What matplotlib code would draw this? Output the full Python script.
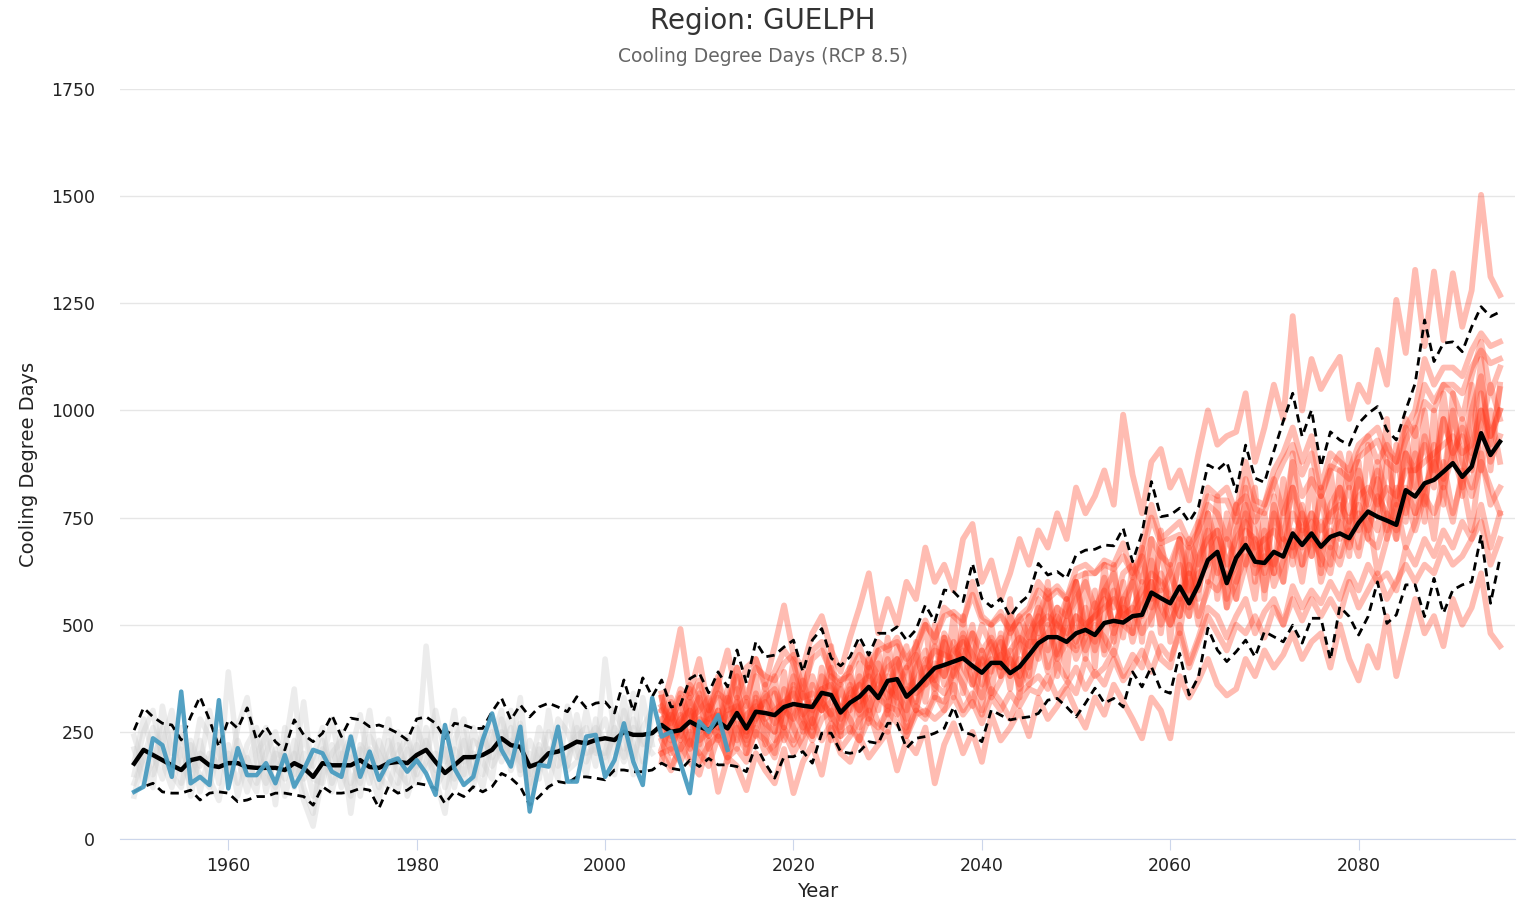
import numpy as np
import matplotlib
matplotlib.use("Agg")
import matplotlib.pyplot as plt

# years
hist_years = np.arange(1950, 2006)
proj_years = np.arange(2006, 2096)
all_years = np.arange(1950, 2096)
obs_years = np.arange(1950, 2014)

# ensemble median / 10th / 90th percentile (1950-2095)
median = [
    176, 208, 196, 184, 172, 161, 184, 189, 172, 168,
    177, 177, 168, 166, 166, 166, 161, 177, 166, 145,
    177, 172, 172, 172, 184, 168, 166, 177, 180, 177,
    196, 208, 180, 154, 172, 191, 191, 196, 208, 235,
    219, 215, 169, 177, 200, 204, 215, 227, 223, 231,
    235, 231, 250, 243, 243, 247,
    266, 250, 254, 274, 262, 254, 274, 258, 294, 258,
    297, 294, 289, 308, 315, 311, 308, 341, 336, 295,
    318, 332, 355, 329, 369, 373, 332, 352, 376, 399,
    406, 414, 422, 404, 388, 411, 411, 387, 402, 429,
    457, 471, 471, 460, 480, 488, 476, 504, 509, 505,
    520, 523, 575, 562, 550, 589, 550, 593, 651, 670,
    597, 656, 686, 647, 644, 670, 659, 713, 686, 713,
    682, 705, 713, 702, 738, 764, 752, 743, 733, 814,
    799, 830, 838, 857, 877, 845, 869, 947, 896, 927,
]
p90 = [
    254, 306, 285, 270, 266, 231, 285, 332, 278, 215,
    278, 258, 306, 231, 262, 227, 208, 278, 243, 227,
    247, 289, 239, 282, 278, 262, 266, 258, 247, 231,
    280, 285, 270, 235, 270, 266, 258, 258, 297, 329,
    278, 313, 285, 308, 317, 308, 297, 332, 306, 317,
    320, 294, 371, 297, 376, 332,
    371, 308, 313, 374, 387, 341, 390, 355, 441, 364,
    460, 425, 429, 448, 464, 390, 464, 491, 422, 404,
    425, 472, 429, 480, 480, 495, 464, 488, 546, 507,
    581, 577, 554, 643, 561, 542, 561, 519, 550, 569,
    643, 616, 624, 608, 663, 674, 676, 686, 684, 725,
    647, 713, 834, 752, 756, 772, 740, 775, 873, 861,
    880, 810, 919, 842, 832, 905, 975, 1040, 939, 1001,
    869, 950, 931, 919, 970, 993, 1009, 954, 931, 1001,
    1063, 1211, 1114, 1157, 1160, 1137, 1195, 1242, 1219, 1230,
]
p10 = [
    110, 122, 130, 110, 107, 107, 114, 91, 107, 110,
    107, 87, 91, 99, 99, 107, 107, 103, 99, 79,
    122, 107, 107, 110, 118, 114, 72, 122, 107, 114,
    130, 126, 118, 83, 110, 99, 122, 110, 122, 153,
    142, 122, 79, 99, 122, 134, 130, 145, 145, 142,
    138, 161, 161, 157, 157, 161,
    177, 165, 161, 184, 169, 188, 173, 173, 169, 157,
    219, 177, 142, 192, 192, 204, 177, 247, 247, 204,
    200, 204, 227, 223, 270, 270, 212, 235, 239, 247,
    258, 308, 250, 243, 227, 301, 289, 278, 282, 285,
    293, 324, 328, 308, 285, 317, 352, 317, 328, 308,
    390, 355, 402, 348, 340, 433, 336, 379, 492, 441,
    414, 437, 464, 425, 484, 472, 460, 499, 457, 515,
    515, 418, 542, 519, 476, 519, 600, 503, 523, 593,
    593, 519, 608, 527, 581, 593, 600, 709, 550, 655,
]

# observed (1950-2013)
observed = [
    110, 122, 235, 219, 145, 344, 130, 145, 126, 324,
    118, 212, 149, 149, 177, 130, 196, 122, 161, 208,
    200, 157, 145, 239, 145, 204, 138, 180, 188, 157,
    184, 153, 103, 266, 165, 126, 145, 231, 293, 208,
    169, 262, 64, 173, 169, 262, 134, 134, 239, 243,
    145, 184, 270, 180, 126, 329, 239, 250, 177, 107,
    274, 250, 289, 208,
]

# historical model runs (1950-2005)
hist_runs = [
    [150, 250, 300, 180, 120, 210, 160, 280, 240, 130, 390, 200, 150, 110, 260, 180, 140, 230, 120, 60,
     210, 160, 250, 130, 180, 300, 150, 120, 200, 240, 170, 450, 230, 120, 190, 150, 260, 180, 140, 280,
     200, 330, 120, 160, 250, 220, 170, 290, 180, 230, 280, 200, 330, 190, 260, 300],
    [210, 130, 180, 260, 150, 120, 230, 170, 300, 200, 140, 260, 330, 180, 130, 210, 100, 180, 320, 140,
     130, 220, 120, 200, 290, 160, 90, 230, 160, 130, 260, 200, 140, 60, 230, 280, 170, 120, 230, 300,
     160, 230, 90, 210, 170, 280, 250, 190, 300, 200, 200, 300, 250, 150, 330, 220],
    [100, 200, 150, 220, 300, 180, 130, 230, 140, 90, 200, 130, 220, 260, 160, 120, 210, 350, 140, 190,
     260, 130, 190, 240, 100, 210, 170, 280, 130, 210, 130, 180, 300, 200, 120, 230, 140, 260, 170, 210,
     260, 150, 200, 140, 300, 170, 200, 240, 260, 170, 420, 240, 190, 280, 220, 250],
    [240, 170, 120, 310, 200, 260, 100, 200, 180, 250, 170, 190, 110, 200, 240, 80, 260, 120, 200, 100,
     180, 280, 160, 100, 210, 130, 230, 170, 220, 160, 220, 160, 200, 180, 300, 130, 230, 210, 280, 180,
     230, 180, 150, 260, 200, 140, 310, 210, 150, 280, 170, 260, 210, 340, 180, 290],
    [180, 280, 200, 140, 250, 130, 220, 110, 200, 170, 220, 100, 190, 130, 200, 250, 160, 200, 90, 30,
     150, 200, 230, 60, 220, 190, 120, 200, 250, 100, 170, 230, 160, 210, 140, 250, 120, 240, 190, 250,
     180, 270, 130, 220, 120, 230, 160, 180, 230, 260, 230, 150, 300, 220, 160, 240],
    [130, 190, 260, 200, 170, 240, 190, 150, 120, 210, 160, 230, 170, 240, 110, 200, 190, 150, 240, 170,
     230, 110, 200, 190, 130, 240, 200, 150, 110, 230, 150, 260, 120, 160, 210, 180, 200, 150, 250, 200,
     300, 160, 230, 180, 210, 200, 170, 260, 200, 210, 190, 240, 180, 260, 230, 200],
]

# projected model runs, RCP 8.5 (2006-2095)
proj_runs = [
    [300, 380, 490, 340, 420, 300, 360, 440, 330, 400, 420, 360, 450, 545, 430, 400, 480, 520, 440, 390,
     470, 540, 620, 480, 560, 500, 600, 560, 680, 600, 640, 580, 700, 735, 600, 650, 560, 620, 700, 640,
     720, 680, 760, 700, 820, 760, 800, 860, 780, 990, 850, 760, 880, 910, 820, 860, 790, 900, 1000, 920,
     940, 950, 1040, 880, 960, 1060, 980, 1220, 1000, 1120, 1050, 1090, 1125, 980, 1060, 1020, 1141, 1060, 1258, 1134,
     1328, 1150, 1324, 1164, 1320, 1195, 1280, 1503, 1312, 1269],
    [200, 160, 220, 180, 150, 230, 110, 190, 170, 114, 200, 160, 130, 210, 107, 180, 220, 150, 260, 200,
     180, 240, 190, 220, 250, 160, 230, 200, 260, 130, 220, 270, 200, 250, 180, 290, 230, 260, 300, 240,
     330, 280, 310, 350, 300, 260, 330, 290, 360, 320, 280, 235, 330, 300, 235, 380, 330, 370, 420, 360,
     335, 350, 420, 380, 440, 400, 430, 480, 420, 460, 480, 400, 500, 420, 370, 450, 400, 520, 380, 470,
     560, 480, 520, 450, 560, 500, 540, 620, 480, 450],
    [250, 300, 210, 280, 330, 240, 300, 220, 350, 260, 320, 270, 250, 350, 300, 260, 380, 320, 290, 250,
     310, 380, 300, 360, 420, 340, 300, 400, 440, 350, 470, 380, 430, 500, 360, 440, 470, 380, 450, 520,
     480, 560, 430, 510, 600, 480, 520, 610, 480, 560, 600, 520, 650, 580, 620, 700, 540, 640, 760, 680,
     560, 720, 780, 640, 700, 620, 760, 820, 680, 760, 640, 780, 820, 700, 860, 760, 720, 880, 780, 900,
     820, 940, 860, 980, 900, 820, 1000, 1080, 920, 1050],
    [330, 240, 280, 300, 220, 310, 260, 330, 280, 230, 280, 340, 300, 260, 360, 300, 240, 380, 350, 300,
     360, 290, 400, 330, 310, 420, 360, 300, 380, 450, 380, 460, 400, 360, 440, 390, 460, 420, 360, 480,
     520, 440, 500, 560, 460, 540, 440, 520, 580, 500, 480, 600, 540, 620, 560, 520, 640, 580, 680, 720,
     650, 600, 720, 700, 620, 760, 700, 680, 760, 660, 740, 680, 760, 820, 720, 800, 860, 700, 820, 760,
     900, 780, 920, 840, 1000, 880, 820, 960, 1060, 980],
    [340, 260, 300, 360, 320, 280, 370, 300, 400, 310, 420, 350, 390, 440, 410, 330, 440, 460, 380, 360,
     400, 450, 380, 460, 440, 470, 400, 450, 510, 460, 540, 520, 500, 600, 520, 500, 530, 480, 520, 540,
     600, 570, 590, 560, 630, 640, 620, 650, 640, 690, 610, 680, 780, 700, 720, 740, 690, 740, 820, 800,
     820, 760, 880, 790, 780, 860, 900, 960, 880, 940, 820, 900, 880, 860, 920, 940, 960, 900, 880, 960,
     1000, 1120, 1060, 1100, 1100, 1080, 1140, 1180, 1150, 1160],
    [280, 230, 260, 330, 280, 270, 240, 300, 310, 250, 340, 280, 300, 320, 340, 290, 320, 300, 380, 280,
     330, 300, 340, 380, 330, 360, 400, 340, 360, 410, 380, 440, 460, 400, 410, 460, 380, 420, 380, 460,
     460, 480, 520, 460, 440, 500, 520, 560, 500, 540, 520, 560, 600, 540, 500, 560, 520, 620, 640, 700,
     600, 640, 700, 620, 660, 640, 700, 660, 720, 700, 680, 720, 660, 740, 780, 720, 800, 760, 700, 820,
     760, 820, 880, 820, 900, 940, 860, 1000, 880, 940],
    [230, 170, 210, 250, 180, 220, 240, 190, 260, 200, 250, 230, 190, 260, 220, 270, 230, 280, 300, 210,
     240, 280, 300, 230, 310, 300, 250, 300, 280, 330, 320, 360, 300, 340, 290, 350, 320, 280, 340, 360,
     380, 350, 410, 370, 340, 420, 380, 400, 440, 380, 430, 400, 480, 420, 400, 500, 410, 470, 540, 520,
     470, 520, 560, 480, 530, 560, 500, 590, 540, 580, 550, 600, 560, 620, 580, 640, 600, 620, 580, 680,
     640, 700, 660, 720, 680, 740, 700, 780, 680, 760],
    [260, 290, 240, 320, 250, 280, 290, 260, 320, 240, 300, 320, 270, 300, 280, 340, 300, 350, 360, 300,
     340, 360, 380, 340, 400, 420, 350, 370, 410, 440, 430, 420, 470, 430, 400, 420, 400, 440, 470, 450,
     500, 520, 500, 480, 520, 500, 520, 540, 560, 520, 540, 580, 620, 600, 560, 640, 580, 660, 700, 720,
     640, 700, 740, 680, 700, 720, 680, 760, 720, 760, 720, 760, 780, 740, 800, 820, 780, 820, 800, 860,
     860, 880, 900, 920, 940, 900, 920, 1000, 940, 1000],
    [310, 280, 350, 330, 370, 300, 340, 320, 400, 330, 400, 380, 370, 410, 430, 350, 420, 440, 390, 370,
     390, 430, 400, 440, 450, 460, 420, 450, 500, 470, 520, 530, 510, 570, 510, 500, 520, 490, 510, 530,
     580, 560, 580, 560, 610, 620, 620, 640, 630, 660, 620, 660, 750, 690, 700, 710, 680, 720, 800, 790,
     790, 740, 840, 770, 760, 830, 880, 920, 850, 900, 800, 870, 860, 840, 890, 910, 930, 880, 860, 930,
     970, 1060, 1020, 1060, 1060, 1040, 1100, 1140, 1110, 1120],
    [300, 270, 340, 280, 300, 330, 260, 290, 300, 330, 280, 330, 350, 300, 380, 330, 340, 300, 320, 370,
     380, 320, 350, 410, 350, 330, 400, 430, 360, 380, 480, 440, 420, 480, 440, 470, 420, 480, 520, 470,
     540, 500, 540, 520, 560, 600, 540, 580, 540, 620, 640, 600, 700, 660, 640, 700, 620, 720, 780, 760,
     700, 780, 800, 740, 780, 840, 760, 880, 800, 840, 800, 860, 900, 820, 900, 940, 880, 920, 880, 980,
     940, 1020, 1000, 1060, 1040, 980, 1080, 1160, 1040, 1100],
    [200, 210, 180, 230, 200, 170, 240, 190, 210, 180, 260, 200, 220, 250, 200, 240, 280, 230, 270, 240,
     260, 230, 280, 260, 300, 270, 240, 290, 300, 280, 300, 330, 290, 320, 270, 330, 300, 340, 310, 350,
     340, 380, 330, 360, 400, 350, 390, 360, 420, 370, 400, 440, 390, 450, 420, 480, 400, 460, 520, 480,
     440, 500, 480, 520, 470, 540, 500, 560, 510, 560, 520, 560, 520, 600, 540, 580, 620, 560, 600, 640,
     600, 640, 620, 680, 640, 660, 700, 740, 640, 700],
    [180, 320, 230, 350, 200, 300, 380, 210, 330, 250, 380, 220, 340, 260, 420, 250, 360, 300, 450, 240,
     400, 260, 430, 300, 470, 320, 280, 460, 320, 500, 360, 520, 340, 480, 300, 500, 380, 560, 330, 520,
     420, 600, 380, 560, 450, 620, 400, 640, 460, 600, 480, 680, 500, 720, 460, 700, 520, 740, 600, 800,
     540, 780, 640, 820, 560, 800, 600, 900, 640, 860, 620, 860, 700, 900, 680, 920, 760, 980, 700, 960,
     760, 1000, 820, 1040, 880, 980, 900, 1120, 860, 1060],
    [330, 200, 290, 220, 340, 210, 260, 350, 230, 320, 240, 360, 250, 390, 230, 370, 260, 400, 280, 360,
     250, 410, 280, 440, 300, 450, 260, 420, 500, 330, 470, 330, 520, 360, 440, 340, 480, 350, 500, 380,
     560, 400, 540, 380, 600, 420, 580, 440, 640, 470, 640, 460, 700, 480, 640, 520, 680, 560, 760, 560,
     760, 560, 820, 600, 760, 620, 840, 640, 780, 660, 820, 640, 860, 660, 880, 700, 840, 720, 920, 740,
     960, 740, 1000, 780, 1040, 800, 1060, 860, 1000, 880],
    [210, 270, 330, 190, 280, 240, 300, 180, 270, 220, 290, 240, 200, 320, 260, 210, 300, 350, 230, 310,
     280, 230, 330, 270, 250, 360, 240, 310, 290, 340, 300, 400, 360, 310, 420, 330, 370, 440, 350, 410,
     470, 390, 440, 510, 420, 470, 550, 430, 480, 560, 460, 540, 600, 500, 560, 480, 620, 520, 580, 660,
     540, 600, 660, 560, 720, 590, 650, 700, 600, 740, 600, 680, 640, 720, 660, 760, 620, 700, 780, 680,
     740, 820, 700, 880, 760, 840, 720, 900, 780, 820],
    [270, 330, 250, 210, 360, 290, 230, 310, 380, 200, 330, 290, 380, 230, 300, 390, 270, 330, 400, 260,
     350, 300, 420, 380, 290, 400, 450, 320, 420, 370, 460, 400, 480, 420, 500, 450, 400, 520, 460, 400,
     520, 580, 480, 540, 600, 500, 460, 580, 620, 520, 600, 660, 560, 680, 620, 560, 700, 640, 720, 620,
     700, 660, 760, 720, 640, 780, 700, 820, 760, 700, 800, 740, 820, 760, 840, 780, 880, 800, 740, 900,
     860, 920, 840, 980, 900, 960, 880, 1040, 940, 1000],
    [240, 210, 270, 300, 230, 250, 330, 270, 210, 290, 310, 270, 230, 300, 350, 280, 240, 320, 290, 350,
     300, 360, 270, 330, 380, 290, 350, 300, 400, 360, 340, 390, 440, 370, 330, 400, 430, 380, 420, 360,
     440, 500, 420, 460, 520, 440, 500, 470, 430, 520, 540, 480, 520, 580, 500, 560, 620, 500, 600, 580,
     620, 560, 640, 700, 580, 660, 600, 720, 640, 700, 660, 620, 740, 680, 760, 700, 680, 760, 720, 800,
     720, 800, 760, 820, 740, 860, 800, 880, 820, 760],
]

fig = plt.figure(figsize=(15.26, 9.05), dpi=100)
ax = fig.add_axes([120 / 1526, 66 / 905, 1395 / 1526, 750 / 905])

for run in hist_runs:
    ax.plot(hist_years, run, color='#cfcfcf', lw=4, alpha=0.38, solid_joinstyle='round', zorder=2)
for run in proj_runs:
    ax.plot(proj_years, run, color='#ff3b1f', lw=4.2, alpha=0.34, solid_joinstyle='round', zorder=3)

ax.plot(all_years, p90, color='black', lw=2, dashes=(3, 2), zorder=5)
ax.plot(all_years, p10, color='black', lw=2, dashes=(3, 2), zorder=5)
ax.plot(all_years, median, color='black', lw=3.2, zorder=6)
ax.plot(obs_years, observed, color='#4a9cc0', lw=3.2, alpha=0.95, zorder=7)

ax.set_xlim(1948.5, 2096.6)
ax.set_ylim(0, 1750)
ax.set_yticks(np.arange(0, 1751, 250))
ax.set_xticks(np.arange(1960, 2081, 20))
ax.grid(axis='y', color='#e6e6e6', lw=1)
ax.set_axisbelow(True)
for s in ['top', 'right', 'left']:
    ax.spines[s].set_visible(False)
ax.spines['bottom'].set_color('#ccd6eb')
ax.tick_params(axis='y', length=0, pad=18, labelsize=12.5, labelcolor='#222222')
ax.tick_params(axis='x', length=8, color='#ccd6eb', pad=5, labelsize=12.5, labelcolor='#222222')

ax.set_xlabel('Year', fontsize=14, color='#222222', labelpad=5)
ax.set_ylabel('Cooling Degree Days', fontsize=14, color='#222222', labelpad=9)

fig.text(0.5, 1 - 21 / 905, 'Region: GUELPH', ha='center', va='center', fontsize=20, color='#333333')
fig.text(0.5, 1 - 57 / 905, 'Cooling Degree Days (RCP 8.5)', ha='center', va='center', fontsize=13.5, color='#666666')

fig.savefig('out.png', dpi=100)
